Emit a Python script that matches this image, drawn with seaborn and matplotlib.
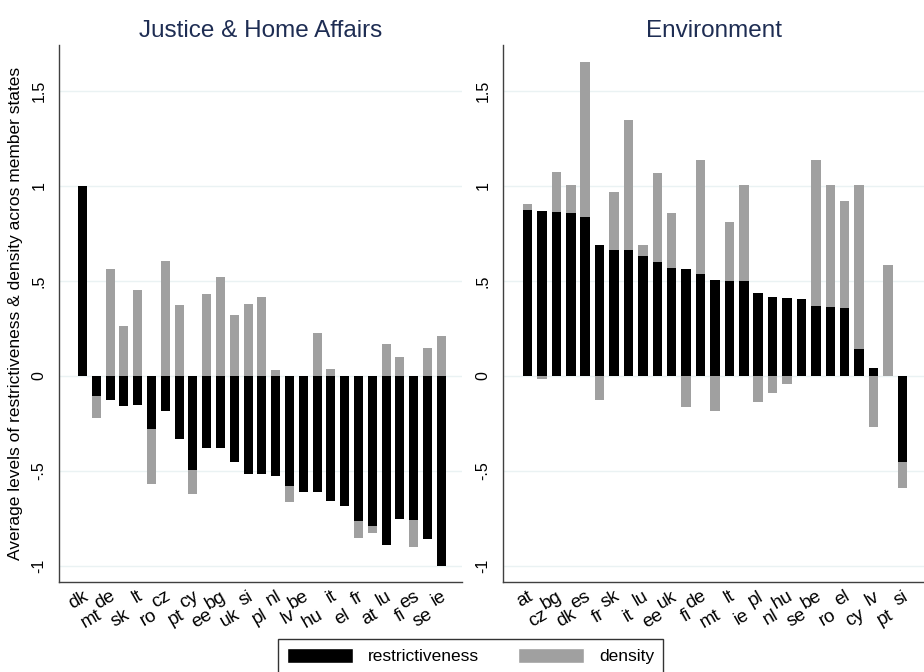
import matplotlib
matplotlib.use('Agg')
import matplotlib.pyplot as plt
import numpy as np
import pandas as pd
import seaborn as sns
from matplotlib.patches import Patch

# Justice & Home Affairs
jha_states = ['dk', 'mt', 'de', 'sk', 'lt', 'ro', 'cz', 'pt', 'cy', 'ee', 'bg', 'uk', 'si', 'pl',
              'nl', 'lv', 'be', 'hu', 'it', 'el', 'fr', 'at', 'lu', 'fi', 'es', 'se', 'ie']
jha_restr = [1.00, -0.106, -0.127, -0.160, -0.151, -0.281, -0.185, -0.332, -0.496, -0.382,
             -0.378, -0.454, -0.514, -0.517, -0.526, -0.577, -0.612, -0.610, -0.656, -0.684,
             -0.765, -0.788, -0.888, -0.753, -0.758, -0.857, -0.999]
jha_density = [0.0, -0.117, 0.692, 0.425, 0.603, -0.287, 0.792, 0.705, -0.128, 0.813,
               0.897, 0.774, 0.894, 0.934, 0.556, -0.088, 0.0, 0.835, 0.691, 0.0,
               -0.090, -0.037, 1.057, 0.850, -0.144, 1.003, 1.210]

# Environment
env_states = ['at', 'cz', 'bg', 'dk', 'es', 'fr', 'sk', 'it', 'lu', 'ee', 'uk', 'fi', 'de', 'mt',
              'lt', 'ie', 'pl', 'nl', 'hu', 'se', 'be', 'ro', 'el', 'cy', 'lv', 'pt', 'si']
env_restr = [0.874, 0.868, 0.861, 0.856, 0.835, 0.691, 0.665, 0.662, 0.630, 0.600,
             0.570, 0.565, 0.534, 0.505, 0.500, 0.500, 0.434, 0.413, 0.409, 0.404,
             0.370, 0.363, 0.360, 0.142, 0.044, 0.0, -0.451]
env_density = [0.030, -0.885, 0.211, 0.148, 0.820, -0.817, 0.305, 0.687, 0.058, 0.470,
               0.290, -0.728, 0.601, -0.691, 0.311, 0.504, -0.574, -0.501, -0.454, 0.0,
               0.769, 0.641, 0.563, 0.862, -0.312, 0.586, -0.140]

yticks = [-1, -0.5, 0, 0.5, 1, 1.5]
ytick_labels = ['-1', '-.5', '0', '.5', '1', '1.5']

BLACK = '#000000'
GREY = '#a0a0a0'
TITLE_COL = '#1e2d53'
GRID_COL = '#eaf2f3'


def draw_panel(ax, states, restr, density, title):
    df = pd.DataFrame({'state': states, 'restr': restr, 'density': density})
    df['stack'] = df['restr'] + df['density']

    sns.barplot(data=df, x='state', y='stack', order=states, color=GREY,
                width=0.66, saturation=1, edgecolor='none', ax=ax, zorder=2)
    sns.barplot(data=df, x='state', y='restr', order=states, color=BLACK,
                width=0.66, saturation=1, edgecolor='none', ax=ax, zorder=3)

    ax.set_xlim(-1.7, 27.5)
    ax.set_ylim(-1.085, 1.742)
    ax.set_yticks(yticks)
    ax.set_yticklabels(ytick_labels, rotation=90, va='center')
    ax.yaxis.grid(True, color=GRID_COL, linewidth=1)
    ax.xaxis.grid(False)
    ax.set_axisbelow(True)

    # staggered country labels: even ones close to the axis, odd ones a row lower
    idx = np.arange(len(states))
    ax.set_xticks(idx[::2])
    ax.set_xticklabels(states[::2], rotation=30, ha='right', rotation_mode='anchor')
    ax.set_xticks(idx[1::2], minor=True)
    ax.set_xticklabels(states[1::2], minor=True, rotation=30, ha='right',
                       rotation_mode='anchor')
    ax.tick_params(axis='x', which='major', length=0, pad=4, labelsize=13.5,
                   labelcolor='black')
    ax.tick_params(axis='x', which='minor', length=0, pad=17.5, labelsize=13.5,
                   labelcolor='black')
    ax.tick_params(axis='y', length=5, width=1, color='#404040', pad=4, labelsize=11.5,
                   labelcolor='black')

    ax.set_xlabel('')
    ax.set_ylabel('')
    ax.set_title(title, color=TITLE_COL, fontsize=17.5, pad=6)

    for side in ['top', 'right']:
        ax.spines[side].set_visible(False)
    for side in ['left', 'bottom']:
        ax.spines[side].set_color('#404040')
        ax.spines[side].set_linewidth(1)


def main():
    sns.set_theme(style='white')
    plt.rcParams['font.family'] = ['Liberation Sans', 'DejaVu Sans']
    plt.rcParams['text.color'] = 'black'

    fig = plt.figure(figsize=(9.24, 6.72), dpi=100)
    ax1 = fig.add_axes([59 / 924, 90 / 672, 403 / 924, 537 / 672])
    ax2 = fig.add_axes([503 / 924, 90 / 672, 421 / 924, 537 / 672])

    draw_panel(ax1, jha_states, jha_restr, jha_density, 'Justice & Home Affairs')
    draw_panel(ax2, env_states, env_restr, env_density, 'Environment')

    ax1.set_ylabel('Average levels of restrictiveness & density acros member states',
                   fontsize=12.5, labelpad=6, color='black')

    handles = [Patch(facecolor=BLACK, label='restrictiveness'),
               Patch(facecolor=GREY, label='density')]
    leg = fig.legend(handles=handles, loc='upper center', ncol=2,
                     bbox_to_anchor=(470.5 / 924, 1 - 639 / 672), fontsize=12.5,
                     frameon=True, fancybox=False, edgecolor='#000000',
                     handlelength=3.85, handleheight=1.0, handletextpad=0.86,
                     columnspacing=2.2, borderpad=0.5, borderaxespad=0)
    leg.get_frame().set_linewidth(1)
    for txt in leg.get_texts():
        txt.set_color('black')

    fig.savefig('out.png', dpi=100)


if __name__ == '__main__':
    main()
